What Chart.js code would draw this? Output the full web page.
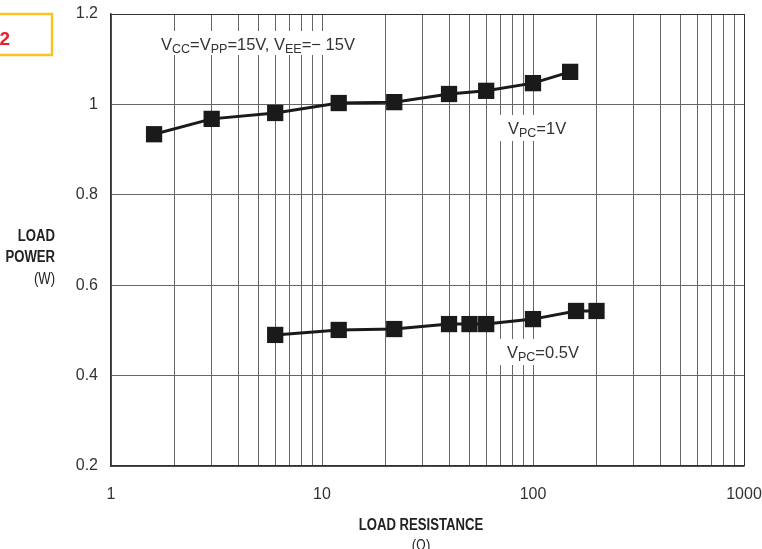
<!DOCTYPE html>
<html>
<head>
<meta charset="utf-8">
<script src="https://cdn.jsdelivr.net/npm/chart.js@4"></script>
<style>
  html, body { margin: 0; padding: 0; background: #fff; }
  #wrap { width: 762px; height: 549px; position: relative; }
</style>
</head>
<body>
<div id="wrap"><canvas id="powerChart"></canvas></div>
<script>
// values
const resistance1V = [1.6, 3, 6, 12, 22, 40, 60, 100, 150];
const power1V = [0.934, 0.968, 0.981, 1.003, 1.005, 1.023, 1.030, 1.047, 1.072];
const resistanceHalfV = [6, 12, 22, 40, 50, 60, 100, 160, 200];
const powerHalfV = [0.490, 0.501, 0.503, 0.514, 0.514, 0.514, 0.525, 0.543, 0.543];
const xTickValues = [1, 2, 3, 4, 5, 6, 7, 8, 9, 10, 20, 30, 40, 50, 60, 70, 80, 90, 100,
  200, 300, 400, 500, 600, 700, 800, 900, 1000];
const xTickLabels = [1, 10, 100, 1000];
const yTickValues = [0.2, 0.4, 0.6, 0.8, 1.0, 1.2];

const SANS = '"Liberation Sans", Arial, sans-serif';
const INK = "#333";

const notes = [
  { box: [157, 31, 205, 24], x: 161, y: 50,
    parts: [["V"], ["CC", 1], ["=V"], ["PP", 1], ["=15V, V"], ["EE", 1], ["=\u2212 15V"]] },
  { box: [492, 115, 84, 26], x: 508, y: 134, parts: [["V"], ["PC", 1], ["=1V"]] },
  { box: [492, 339, 98, 26], x: 507, y: 358, parts: [["V"], ["PC", 1], ["=0.5V"]] }
];

function drawRich(ctx, parts, x, y) {
  parts.forEach(([t, sub]) => {
    ctx.font = (sub ? "12.5px " : "16.5px ") + SANS;
    ctx.fillText(t, x, sub ? y + 3 : y);
    x += ctx.measureText(t).width;
  });
}

// condensed text: squeeze Liberation Sans horizontally
function drawNarrow(ctx, text, x, y, font) {
  ctx.save();
  ctx.font = font;
  ctx.translate(x, y);
  ctx.scale(0.82, 1);
  ctx.fillText(text, 0, 0);
  ctx.restore();
}

const labelsPlugin = {
  id: "labels",
  beforeDatasetsDraw(chart) {
    const ctx = chart.ctx;
    ctx.save();
    ctx.textBaseline = "alphabetic";
    ctx.textAlign = "left";
    notes.forEach(n => {
      ctx.fillStyle = "#fff";
      ctx.fillRect(...n.box);
      ctx.fillStyle = INK;
      drawRich(ctx, n.parts, n.x, n.y);
    });
    ctx.restore();
  },
  afterDraw(chart) {
    const ctx = chart.ctx;
    ctx.save();
    ctx.fillStyle = "#222";
    ctx.textBaseline = "alphabetic";
    // y title
    ctx.textAlign = "right";
    drawNarrow(ctx, "LOAD", 55, 241, "bold 16px " + SANS);
    drawNarrow(ctx, "POWER", 55, 262, "bold 16px " + SANS);
    drawNarrow(ctx, "(W)", 55, 284, "16px " + SANS);
    // x title
    ctx.textAlign = "center";
    drawNarrow(ctx, "LOAD RESISTANCE", 421, 530, "bold 16px " + SANS);
    drawNarrow(ctx, "(\u03A9)", 421, 551, "16px " + SANS);
    // figure tag
    ctx.strokeStyle = "#f7c325";
    ctx.lineWidth = 2.5;
    ctx.strokeRect(-5, 14, 57, 41);
    ctx.fillStyle = "#e62129";
    ctx.font = "bold 19px " + SANS;
    ctx.textAlign = "right";
    ctx.fillText("2", 10, 45);
    ctx.restore();
  }
};

const lineStyle = {
  borderColor: "#1a1a1a",
  borderWidth: 3,
  pointStyle: "rect",
  pointRadius: 11.5,
  pointBackgroundColor: "#1a1a1a",
  pointBorderWidth: 0,
  tension: 0
};

new Chart(document.getElementById("powerChart"), {
  type: "line",
  data: {
    datasets: [
      { label: "VPC=1V", data: resistance1V.map((x, i) => ({ x, y: power1V[i] })), ...lineStyle },
      { label: "VPC=0.5V", data: resistanceHalfV.map((x, i) => ({ x, y: powerHalfV[i] })), ...lineStyle }
    ]
  },
  options: {
    responsive: true,
    maintainAspectRatio: false,
    animation: false,
    layout: { padding: { top: 14, right: 18, bottom: 0, left: 0 } },
    plugins: { legend: { display: false }, tooltip: { enabled: false } },
    scales: {
      x: {
        type: "logarithmic",
        min: 1,
        max: 1000,
        afterBuildTicks: s => { s.ticks = xTickValues.map(v => ({ value: v })); },
        afterFit: s => { s.height = 83; s.paddingLeft = 0; s.paddingRight = 0; },
        ticks: {
          autoSkip: false,
          maxRotation: 0,
          padding: 19,
          color: INK,
          font: { family: SANS, size: 16 },
          callback: v => xTickLabels.includes(v) ? String(v) : ""
        },
        grid: {
          drawTicks: false,
          lineWidth: 1,
          color: c => c.tick && c.tick.value === 1000 ? "#333" : "#666"
        },
        border: { color: "#333", width: 1.5 }
      },
      y: {
        min: 0.2,
        max: 1.2,
        afterBuildTicks: s => { s.ticks = yTickValues.map(v => ({ value: v })); },
        afterFit: s => { s.width = 111; s.paddingTop = 0; s.paddingBottom = 0; },
        ticks: {
          padding: 13,
          color: INK,
          font: { family: SANS, size: 16 },
          callback: v => String(Math.round(v * 10) / 10)
        },
        grid: {
          drawTicks: false,
          lineWidth: 1,
          color: c => c.tick && Math.abs(c.tick.value - 1.2) < 1e-6 ? "#333" : "#666"
        },
        border: { color: "#333", width: 1.5 }
      }
    }
  },
  plugins: [labelsPlugin]
});
</script>
</body>
</html>
